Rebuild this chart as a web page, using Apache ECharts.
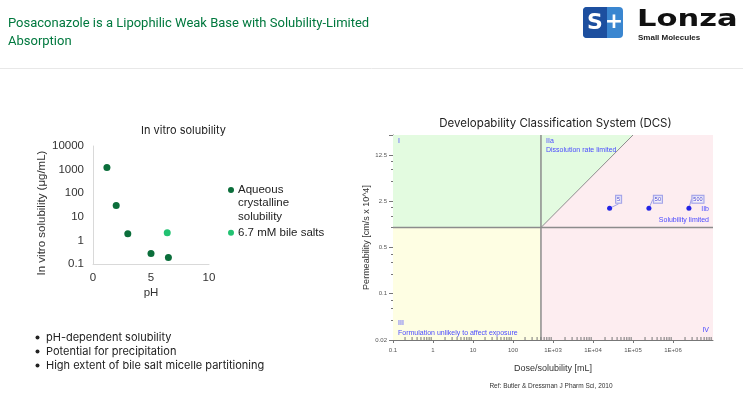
<!DOCTYPE html>
<html><head><meta charset="utf-8">
<script src="https://cdn.jsdelivr.net/npm/echarts@6/dist/echarts.min.js"></script>
<style>html,body{margin:0;padding:0;background:#fff}#c{width:743px;height:397px}</style>
</head><body><div id="c"></div>
<script>
// ---- Left chart data (in vitro solubility vs pH) ----
const phAqueous = [1.2, 2.0, 3.0, 5.0, 6.5];
const solAqueous = [1230, 30, 1.9, 0.28, 0.19];
const phBile = [6.4];
const solBile = [2.1];
const legendNames = ['Aqueous\ncrystalline\nsolubility', '6.7 mM bile salts'];
const bulletTexts = ['pH-dependent solubility', 'Potential for precipitation', 'High extent of bile salt micelle partitioning'];

// ---- DCS chart data ----
const doseSolValues = [2.6e4, 2.5e5, 2.5e6];
const permValues = [1.95, 1.95, 1.95];
const doseLabels = ['5', '50', '500'];
const doseAxisRange = [0.1, 1e7];
const permAxisRange = [0.02, 25];
const doseThreshold = [500];
const permThreshold = [1];
const diagonalEnd = [1e5, 25];
const regionI_IIa = [[0.1, 1], [0.1, 25], [1e5, 25], [500, 1]];
const regionIII = [[0.1, 0.02], [500, 0.02], [500, 1], [0.1, 1]];
const regionIIb_IV = [[500, 0.02], [1e7, 0.02], [1e7, 25], [1e5, 25], [500, 1]];
const regions = [regionI_IIa, regionIII, regionIIb_IV];
const regionColors = ['#e3fbe0', '#fefee3', '#fdedf0'];
const minorMultipliers = [2, 3, 4, 5, 6, 7, 8, 9];
const decadeStarts = [0.1, 1, 10, 100, 1000, 1e4, 1e5, 1e6];

const GREEN_DARK = '#0b6e3b';
const GREEN_LIGHT = '#22c272';
const DCS_BLUE = '#4b4bff';
const FONT_H = 'Inter';
const FONT_T = 'Roboto';
const FONT_A = 'Liberation Sans';

const minorTicks = [];
decadeStarts.forEach(d => minorMultipliers.forEach(m => minorTicks.push([d * m, permAxisRange[0]])));

const chart = echarts.init(document.getElementById('c'), null, {renderer: 'canvas'});

function fmtDose(v) {
  if (v >= 1000) { const e = Math.round(Math.log10(v)); return '1E+' + (e < 10 ? '0' + e : e); }
  return String(+v.toPrecision(3));
}
function fmtPerm(v) {
  return String(+v.toPrecision(v >= 10 ? 3 : 2));
}

const option = {
  backgroundColor: '#fff',
  animation: false,
  title: [
    {text: 'Posaconazole is a Lipophilic Weak Base with Solubility-Limited\nAbsorption', left: 3, top: 9,
     textStyle: {fontFamily: FONT_T, fontSize: 13, fontWeight: 'normal', color: '#00783e', lineHeight: 18.5}},
    {text: 'In vitro solubility', left: 178.5, top: 120, textAlign: 'center',
     textStyle: {fontFamily: FONT_H, fontSize: 11, fontWeight: 'normal', color: '#222'}},
    {text: 'Developability Classification System (DCS)', left: 550.5, top: 113, textAlign: 'center',
     textStyle: {fontFamily: FONT_H, fontSize: 11.5, fontWeight: 'normal', color: '#222'}}
  ],
  grid: [
    {left: 93, top: 146, width: 116, height: 118},
    {left: 393, top: 135, width: 320, height: 205}
  ],
  xAxis: [
    {gridIndex: 0, type: 'value', min: 0, max: 10, interval: 5,
     name: 'pH', nameLocation: 'middle', nameGap: 23,
     nameTextStyle: {fontFamily: FONT_A, fontSize: 11.5, color: '#333'},
     axisLine: {lineStyle: {color: '#d9d9d9'}}, axisTick: {show: false}, splitLine: {show: false},
     axisLabel: {fontFamily: FONT_A, fontSize: 11.5, color: '#333', margin: 8}},
    {gridIndex: 1, type: 'log', logBase: 10, min: doseAxisRange[0], max: doseAxisRange[1],
     name: 'Dose/solubility [mL]', nameLocation: 'middle', nameGap: 24,
     nameTextStyle: {fontFamily: FONT_A, fontSize: 9, color: '#333'},
     axisLine: {lineStyle: {color: '#777', width: 1}},
     axisTick: {show: true, inside: false, length: 3, lineStyle: {color: '#777'}},
     minorTick: {show: false},
     splitLine: {show: false},
     axisLabel: {fontFamily: FONT_A, fontSize: 6, color: '#555', margin: 7, showMaxLabel: false, formatter: fmtDose}}
  ],
  yAxis: [
    {gridIndex: 0, type: 'log', logBase: 10, min: 0.1, max: 10000,
     name: 'In vitro solubility (μg/mL)', nameLocation: 'middle', nameGap: 45,
     nameTextStyle: {fontFamily: FONT_A, fontSize: 11.5, color: '#333', padding: [0, 16, 0, 0]},
     axisLine: {show: true, lineStyle: {color: '#d9d9d9'}}, axisTick: {show: false}, splitLine: {show: false},
     axisLabel: {fontFamily: FONT_A, fontSize: 11.5, color: '#333', margin: 9, formatter: v => String(+v.toPrecision(3))}},
    {gridIndex: 1, type: 'log', logBase: 5, min: permAxisRange[0], max: permAxisRange[1], interval: 1,
     name: 'Permeability [cm/s x 10^4]', nameLocation: 'middle', nameGap: 22,
     nameTextStyle: {fontFamily: FONT_A, fontSize: 9, color: '#333'},
     axisLine: {show: true, lineStyle: {color: '#777'}},
     axisTick: {show: true, length: 4, lineStyle: {color: '#777'}},
     minorTick: {show: true, splitNumber: 4, length: 2, lineStyle: {color: '#777'}},
     splitLine: {show: false},
     axisLabel: {fontFamily: FONT_A, fontSize: 6, color: '#555', margin: 6, showMaxLabel: false, formatter: fmtPerm}}
  ],
  series: [
    {type: 'scatter', xAxisIndex: 0, yAxisIndex: 0, name: 'Aqueous crystalline solubility',
     data: phAqueous.map((x, i) => [x, solAqueous[i]]), symbolSize: 7, itemStyle: {color: GREEN_DARK, opacity: 1}},
    {type: 'scatter', xAxisIndex: 0, yAxisIndex: 0, name: '6.7 mM bile salts',
     data: phBile.map((x, i) => [x, solBile[i]]), symbolSize: 7, itemStyle: {color: GREEN_LIGHT, opacity: 1}},
    {type: 'custom', xAxisIndex: 1, yAxisIndex: 1, silent: true, z: 1,
     data: regions.map((r, i) => [r[0][0], r[0][1], i]),
     renderItem: (params, api) => {
       const poly = regions[params.dataIndex];
       return {type: 'polygon', shape: {points: poly.map(p => api.coord(p))}, style: {fill: regionColors[params.dataIndex]}};
     }},
    {type: 'custom', xAxisIndex: 1, yAxisIndex: 1, silent: true, z: 5,
     data: minorTicks,
     renderItem: (params, api) => {
       const p = api.coord(minorTicks[params.dataIndex]);
       return {type: 'line', shape: {x1: p[0], y1: p[1] + 1, x2: p[0], y2: p[1] - 3}, style: {stroke: '#777', lineWidth: 1}};
     }},
    {type: 'line', xAxisIndex: 1, yAxisIndex: 1, silent: true, symbol: 'none', z: 3,
     data: [[doseThreshold[0], permAxisRange[0]], [doseThreshold[0], permAxisRange[1]]],
     lineStyle: {color: '#8c8c8c', width: 1.5}},
    {type: 'line', xAxisIndex: 1, yAxisIndex: 1, silent: true, symbol: 'none', z: 3,
     data: [[doseAxisRange[0], permThreshold[0]], [doseAxisRange[1], permThreshold[0]]],
     lineStyle: {color: '#8c8c8c', width: 1.5}},
    {type: 'line', xAxisIndex: 1, yAxisIndex: 1, silent: true, symbol: 'none', z: 3,
     data: [[doseThreshold[0], permThreshold[0]], diagonalEnd],
     lineStyle: {color: '#8c8c8c', width: 1}},
    {type: 'scatter', xAxisIndex: 1, yAxisIndex: 1, z: 6,
     data: doseSolValues.map((x, i) => [x, permValues[i]]), symbolSize: 5, itemStyle: {color: '#2424e6', opacity: 1},
     label: {show: true, position: 'inside', formatter: p => doseLabels[p.dataIndex],
       fontFamily: FONT_A, fontSize: 5.5, color: '#3b3bd0', borderColor: '#a2a2e8', borderWidth: 1,
       padding: [1, 1, 0, 1], backgroundColor: 'rgba(255,255,255,0.6)'},
     labelLayout: {dx: 9, dy: -9},
     labelLine: {show: true, lineStyle: {color: '#a2a2e8', width: 1}}}
  ],
  graphic: [
    {type: 'line', shape: {x1: 0, y1: 68.5, x2: 743, y2: 68.5}, style: {stroke: '#e8e8e8', lineWidth: 1}},
    // logo
    {type: 'rect', shape: {x: 583, y: 7, width: 40, height: 31, r: 4}, style: {fill: '#3a86d0'}},
    {type: 'rect', shape: {x: 583, y: 7, width: 24, height: 31, r: [4, 0, 0, 4]}, style: {fill: '#1d4f9f'}},
    {type: 'text', x: 595, y: 23, style: {text: 'S', fontFamily: 'DejaVu Sans', fontWeight: 'bold', fontSize: 22, fill: '#fff', align: 'center', verticalAlign: 'middle'}},
    {type: 'text', x: 614, y: 22, style: {text: '+', fontFamily: 'DejaVu Sans', fontWeight: 'bold', fontSize: 22, fill: '#fff', align: 'center', verticalAlign: 'middle'}},
    {type: 'text', x: 637, y: 19.5, scaleX: 1.3, style: {text: 'Lonza', fontFamily: 'DejaVu Sans', fontWeight: 'bold', fontSize: 23.5, fill: '#111', verticalAlign: 'middle'}},
    {type: 'text', x: 638, y: 37.5, style: {text: 'Small Molecules', fontFamily: FONT_A, fontWeight: 'bold', fontSize: 8, fill: '#222', verticalAlign: 'middle'}},
    // legend
    {type: 'circle', shape: {cx: 231, cy: 190, r: 3}, style: {fill: GREEN_DARK}},
    {type: 'text', x: 238, y: 183, style: {text: legendNames[0], fontFamily: FONT_A, fontSize: 11.5, lineHeight: 13.4, fill: '#222', verticalAlign: 'top'}},
    {type: 'circle', shape: {cx: 231, cy: 232.7, r: 3}, style: {fill: GREEN_LIGHT}},
    {type: 'text', x: 238, y: 232.7, style: {text: legendNames[1], fontFamily: FONT_A, fontSize: 11.5, fill: '#222', verticalAlign: 'middle'}},
    // bullets
    ...bulletTexts.flatMap((t, i) => [
      {type: 'circle', shape: {cx: 37.5, cy: 337.5 + i * 14, r: 2}, style: {fill: '#222'}},
      {type: 'text', x: 46, y: 337.5 + i * 14, style: {text: t, fontFamily: FONT_H, fontSize: 11, fill: '#222', verticalAlign: 'middle'}}
    ]),
    // DCS region labels
    {type: 'text', x: 398, y: 141, z: 10, style: {text: 'I', fontFamily: FONT_A, fontSize: 7, fill: DCS_BLUE, verticalAlign: 'middle'}},
    {type: 'text', x: 546, y: 141, z: 10, style: {text: 'IIa', fontFamily: FONT_A, fontSize: 7, fill: DCS_BLUE, verticalAlign: 'middle'}},
    {type: 'text', x: 546, y: 150.5, z: 10, style: {text: 'Dissolution rate limited', fontFamily: FONT_A, fontSize: 7, fill: DCS_BLUE, verticalAlign: 'middle'}},
    {type: 'text', x: 709, y: 209.5, z: 10, style: {text: 'IIb', fontFamily: FONT_A, fontSize: 7, fill: DCS_BLUE, align: 'right', verticalAlign: 'middle'}},
    {type: 'text', x: 709, y: 220, z: 10, style: {text: 'Solubility limited', fontFamily: FONT_A, fontSize: 7, fill: DCS_BLUE, align: 'right', verticalAlign: 'middle'}},
    {type: 'text', x: 398, y: 323, z: 10, style: {text: 'III', fontFamily: FONT_A, fontSize: 7, fill: DCS_BLUE, verticalAlign: 'middle'}},
    {type: 'text', x: 398, y: 333, z: 10, style: {text: 'Formulation unlikely to affect exposure', fontFamily: FONT_A, fontSize: 7, fill: DCS_BLUE, verticalAlign: 'middle'}},
    {type: 'text', x: 709, y: 330.5, z: 10, style: {text: 'IV', fontFamily: FONT_A, fontSize: 7, fill: DCS_BLUE, align: 'right', verticalAlign: 'middle'}},
    // reference
    {type: 'text', x: 551, y: 386.5, style: {text: 'Ref: Butler & Dressman J Pharm Sci, 2010', fontFamily: FONT_A, fontSize: 6.5, fill: '#333', align: 'center', verticalAlign: 'middle'}}
  ]
};
chart.setOption(option);
</script></body></html>
